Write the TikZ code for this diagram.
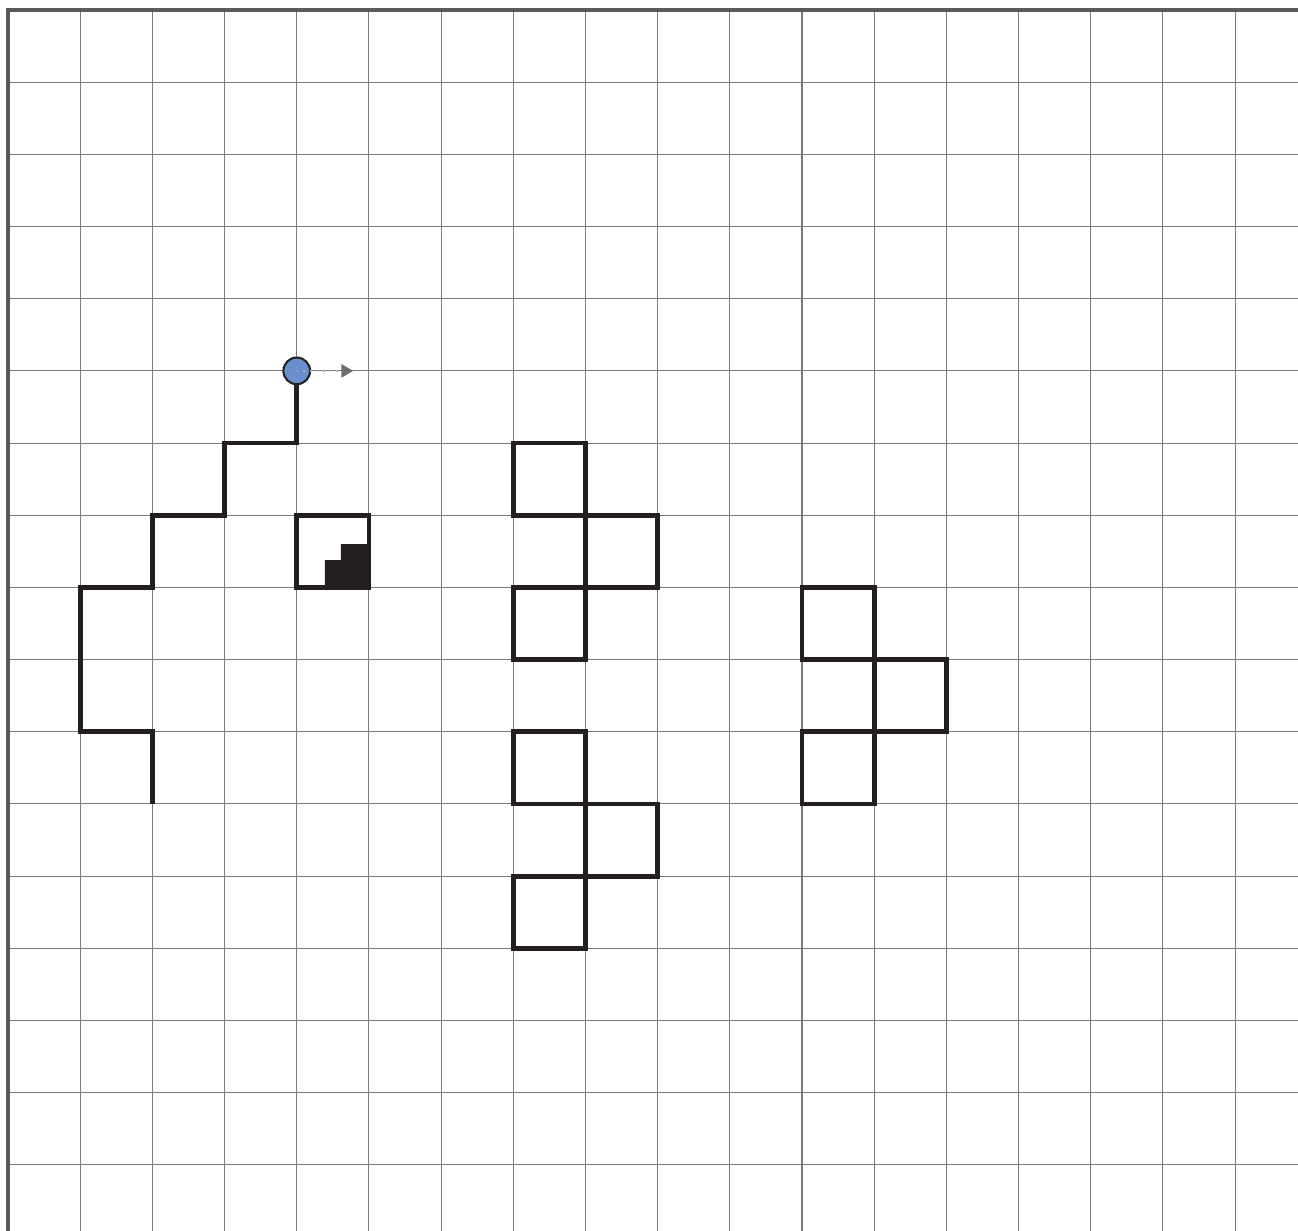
\documentclass[tikz,border=0pt]{standalone}
\usetikzlibrary{arrows.meta}
\definecolor{ink}{HTML}{231F20}
\definecolor{gridgray}{HTML}{7A7A7A}
\definecolor{bordergray}{HTML}{5A5A5A}
\definecolor{dotblue}{HTML}{6A8FCF}
\definecolor{arrgray}{HTML}{6D6E71}
\tikzset{
  gridline/.style={draw=gridgray,line width=0.4pt},
  borderline/.style={draw=bordergray,line width=1.2pt},
  thickpath/.style={draw=ink,line width=1.9pt,line join=miter},
  cellbox/.style={draw=ink,line width=1.9pt},
  stepfill/.style={fill=ink},
  dotnode/.style={circle,draw=ink,line width=0.8pt,fill=dotblue,minimum size=0.37cm,inner sep=0pt},
}
\begin{document}
\begin{tikzpicture}
\useasboundingbox (-0.111,0.1385) rectangle (17.872,-16.916);
\fill[white] (-0.111,0.1385) rectangle (17.872,-16.916);
% grid
\foreach \i in {1,...,17} \draw[gridline] (\i,0) -- (\i,-16.916);
\foreach \j in {1,...,16} \draw[gridline] (0,-\j) -- (17.872,-\j);
\draw[borderline] (0,-16.916) -- (0,0) -- (17.872,0);
% staircase path
\draw[thickpath] (2,-11) -- (2,-10) -- (1,-10) -- (1,-8) -- (2,-8) -- (2,-7) -- (3,-7) -- (3,-6) -- (4,-6) -- (4,-5);
% square with steps
\fill[stepfill] (4.39,-8) -- (4.39,-7.62) -- (4.61,-7.62) -- (4.61,-7.4) -- (5,-7.4) -- (5,-8) -- cycle;
\draw[cellbox] (4,-7) rectangle (5,-8);
% shape 1
\draw[cellbox] (7,-6) rectangle (8,-7);
\draw[cellbox] (8,-7) rectangle (9,-8);
\draw[cellbox] (7,-8) rectangle (8,-9);
% shape 2
\draw[cellbox] (7,-10) rectangle (8,-11);
\draw[cellbox] (8,-11) rectangle (9,-12);
\draw[cellbox] (7,-12) rectangle (8,-13);
% shape 3
\draw[cellbox] (11,-8) rectangle (12,-9);
\draw[cellbox] (12,-9) rectangle (13,-10);
\draw[cellbox] (11,-10) rectangle (12,-11);
% dot and arrow
\node[dotnode] (dot) at (4,-5) {};
\coordinate (tip) at (4.78,-5);
\draw[draw=gray!60,line width=0.6pt,dotted] (dot.center) -- (4.63,-5);
\fill[arrgray] (4.62,-4.905) -- (tip) -- (4.62,-5.095) -- cycle;
\end{tikzpicture}
\end{document}
